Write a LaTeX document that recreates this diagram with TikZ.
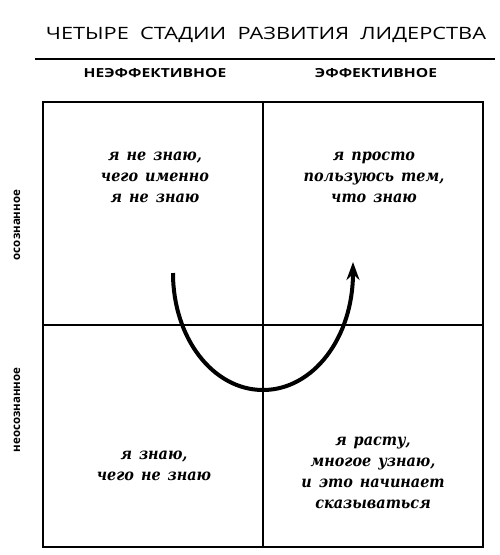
\documentclass[tikz,border=0pt]{standalone}
\usepackage{fontspec}
\setmainfont{DejaVu Serif}
\setsansfont{Open Sans}
\newfontfamily\quadfont[WordSpace=1.4]{DejaVu Serif Condensed}
\usetikzlibrary{arrows.meta}
\usetikzlibrary{calc}

\tikzset{
  quadtext/.style={align=center, font=\quadfont\bfseries\itshape\fontsize{16}{21}\selectfont},
  colhead/.style={font=\sffamily\bfseries\fontsize{12.5}{14}\selectfont},
  rowhead/.style={font=\sffamily\bfseries\fontsize{11.5}{13}\selectfont, rotate=90}
}

\begin{document}
\begin{tikzpicture}[x=1pt,y=-1pt]
      \useasboundingbox (0,0) rectangle (500,555);

      % Title
      \node[font=\sffamily\fontsize{17}{20}\selectfont] (title) at (266,35)
        {\scalebox{1.28}[1]{ЧЕТЫРЕ\ \ СТАДИИ\ \ РАЗВИТИЯ\ \ ЛИДЕРСТВА}};
      \draw[line width=1.2pt] (35,59) -- (495,59);

      % Column and row heads
      \node[colhead] (ineff) at (155,73) {\scalebox{1.25}[1]{НЕЭФФЕКТИВНОЕ}};
      \node[colhead] (eff) at (376,73) {\scalebox{1.25}[1]{ЭФФЕКТИВНОЕ}};
      \node[rowhead] (aware) at (17,225) {осознанное};
      \node[rowhead] (unaware) at (17,410) {неосознанное};

      % Grid
      \draw[line width=1.6pt] (43,102) rectangle (483,547);
      \draw[line width=1.2pt] (263,102) -- (263,547);
      \draw[line width=1.2pt] (43,325) -- (483,325);

      % Quadrants
      \node[quadtext] (tl) at (155,177) {я не знаю,\\чего именно\\я не знаю};
      \node[quadtext] (tr) at (374,177) {я просто\\пользуюсь тем,\\что знаю};
      \node[quadtext] (bl) at (154,466) {я знаю,\\чего не знаю};
      \node[quadtext] (br) at (373,473) {я расту,\\многое узнаю,\\и это начинает\\сказываться};

      % Arrow
      \coordinate (start) at (173,273);
      \coordinate (low) at (263,390);
      \coordinate (stop) at (353,262);
      \draw[line width=4pt, -{Stealth[length=18pt,width=13pt]}]
        (start) .. controls (173,338) and (213,390) .. (low)
                .. controls (313,390) and (353,338) .. (stop);
  \end{tikzpicture}
\end{document}
